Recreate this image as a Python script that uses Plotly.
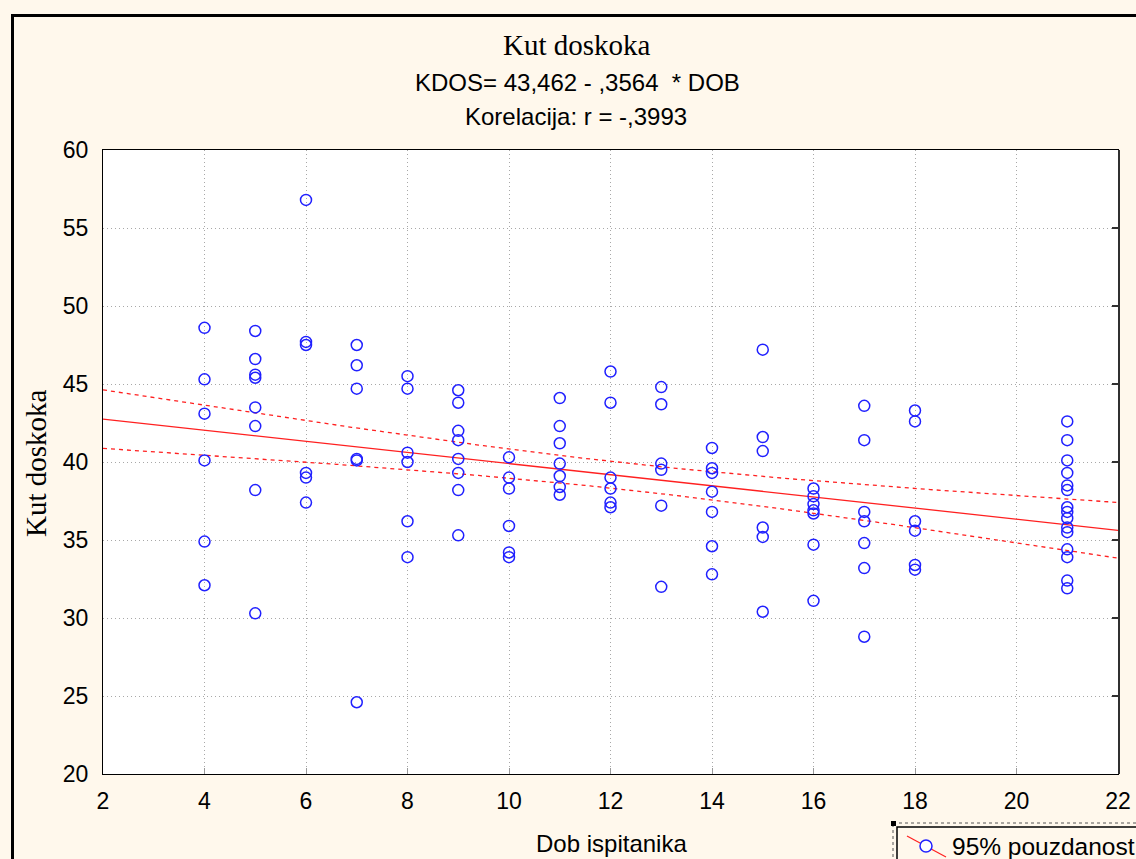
import numpy as np
import plotly.graph_objects as go

# Kut doskoka (landing angle) measured per age group (Dob ispitanika)
kut_dob4 = [48.6, 45.3, 43.1, 40.1, 34.9, 32.1]
kut_dob5 = [48.4, 46.6, 45.6, 45.4, 43.5, 42.3, 38.2, 30.3]
kut_dob6 = [56.8, 47.7, 47.5, 39.3, 39.0, 37.4]
kut_dob7 = [47.5, 46.2, 44.7, 40.2, 40.1, 24.6]
kut_dob8 = [45.5, 44.7, 40.6, 40.0, 36.2, 33.9]
kut_dob9 = [44.6, 43.8, 42.0, 41.4, 40.2, 39.3, 38.2, 35.3]
kut_dob10 = [40.3, 39.0, 38.3, 35.9, 34.2, 33.9]
kut_dob11 = [44.1, 42.3, 41.2, 39.9, 39.1, 38.4, 37.9]
kut_dob12 = [45.8, 43.8, 39.0, 38.3, 37.4, 37.1]
kut_dob13 = [44.8, 43.7, 39.9, 39.5, 37.2, 32.0]
kut_dob14 = [40.9, 39.6, 39.3, 38.1, 36.8, 34.6, 32.8]
kut_dob15 = [47.2, 41.6, 40.7, 35.8, 35.2, 30.4]
kut_dob16 = [38.3, 37.8, 37.3, 36.9, 36.7, 34.7, 31.1]
kut_dob17 = [43.6, 41.4, 36.8, 36.2, 34.8, 33.2, 28.8]
kut_dob18 = [43.3, 42.6, 36.2, 35.6, 33.4, 33.1]
kut_dob21 = [42.6, 41.4, 40.1, 39.3, 38.5, 38.2, 37.1, 36.8, 36.4,
             35.8, 35.5, 34.4, 33.9, 32.4, 31.9]

age_groups = [4, 5, 6, 7, 8, 9, 10, 11, 12, 13, 14, 15, 16, 17, 18, 21]
group_values = [kut_dob4, kut_dob5, kut_dob6, kut_dob7, kut_dob8, kut_dob9,
                kut_dob10, kut_dob11, kut_dob12, kut_dob13, kut_dob14,
                kut_dob15, kut_dob16, kut_dob17, kut_dob18, kut_dob21]

# Fitted model KDOS = 43,462 - ,3564 * DOB
intercept = 43.462
slope = -0.3564
t_95 = 1.983

x_ticks = [2, 4, 6, 8, 10, 12, 14, 16, 18, 20, 22]
y_ticks = [20, 25, 30, 35, 40, 45, 50, 55, 60]

dob = np.concatenate([[a] * len(v) for a, v in zip(age_groups, group_values)]).astype(float)
kut = np.concatenate(group_values).astype(float)

# regression line and 95% confidence band of the mean
n = len(dob)
resid = kut - (intercept + slope * dob)
s = np.sqrt(np.sum(resid ** 2) / (n - 2))
x_mean = dob.mean()
sxx = np.sum((dob - x_mean) ** 2)
xl = np.linspace(2, 22, 201)
yl = intercept + slope * xl
half = t_95 * s * np.sqrt(1.0 / n + (xl - x_mean) ** 2 / sxx)

PL, PR, PT, PB = 103, 1118, 150, 774
W, H = 1136, 859


def px(xp):
    return (xp - PL) / (PR - PL)


def py(yp):
    return (PB - yp) / (PB - PT)


fig = go.Figure()
red = "#FF2020"
blue = "#2020FF"
fig.add_trace(go.Scatter(x=xl, y=yl + half, mode="lines",
                         line=dict(color=red, width=1.3, dash="4px,4px"),
                         showlegend=False, hoverinfo="skip"))
fig.add_trace(go.Scatter(x=xl, y=yl - half, mode="lines",
                         line=dict(color=red, width=1.3, dash="4px,4px"),
                         showlegend=False, hoverinfo="skip"))
fig.add_trace(go.Scatter(x=xl, y=yl, mode="lines",
                         line=dict(color=red, width=1.3),
                         showlegend=False, hoverinfo="skip"))
fig.add_trace(go.Scatter(x=dob, y=kut, mode="markers",
                         marker=dict(symbol="circle-open", size=11,
                                     color=blue, line=dict(width=1.5, color=blue)),
                         showlegend=False))
# right-hand axis carrying the inward ticks
fig.add_trace(go.Scatter(x=[2], y=[20], yaxis="y2", mode="markers",
                         marker=dict(opacity=0), showlegend=False, hoverinfo="skip"))

sans = "Liberation Sans, Arial, sans-serif"
serif = "Liberation Serif, Times New Roman, serif"

grid = dict(showgrid=True, gridcolor="#A8A8A8", griddash="1px,3px", gridwidth=1)

fig.update_layout(
    width=W, height=H, autosize=False,
    margin=dict(l=PL, r=W - PR, t=PT, b=H - PB, autoexpand=False),
    paper_bgcolor="#FFF8EC",
    plot_bgcolor="#FFFFFF",
    showlegend=False,
    xaxis=dict(range=[2, 22], tickvals=x_ticks, ticktext=[str(v) for v in x_ticks],
               zeroline=False, showline=True, linecolor="#000000", linewidth=1,
               mirror=True, ticks="inside", ticklen=6, tickcolor="#9A9A9A",
               tickfont=dict(family=sans, size=23, color="#000000"),
               ticklabelstandoff=6, automargin=False, **grid),
    yaxis=dict(range=[20, 60], tickvals=y_ticks, ticktext=[str(v) for v in y_ticks],
               zeroline=False, showline=True, linecolor="#000000", linewidth=1,
               mirror=True, ticks="",
               tickfont=dict(family=sans, size=23, color="#000000"),
               ticklabelstandoff=9, automargin=False, **grid),
    yaxis2=dict(range=[20, 60], tickvals=y_ticks, overlaying="y", side="right",
                showgrid=False, zeroline=False, showticklabels=False,
                ticks="inside", ticklen=6, tickwidth=2, tickcolor="#303030",
                showline=True, linecolor="#303030", linewidth=2, automargin=False),
)

annotations = [
    dict(text="Kut doskoka", x=px(577), y=py(45), font=dict(family=serif, size=29)),
    dict(text="KDOS= 43,462 - ,3564  * DOB", x=px(577), y=py(83), font=dict(family=sans, size=24)),
    dict(text="Korelacija: r = -,3993", x=px(576), y=py(117), font=dict(family=sans, size=24)),
    dict(text="Dob ispitanika", x=px(611), y=py(843), font=dict(family=sans, size=24)),
    dict(text="Kut doskoka", x=px(36), y=py(463), textangle=-90, font=dict(family=serif, size=29)),
    dict(text="95% pouzdanost", x=px(950), y=py(846), xanchor="left", font=dict(family=sans, size=24.5)),
]
for a in annotations:
    a.setdefault("xanchor", "center")
    a.update(xref="paper", yref="paper", yanchor="middle", showarrow=False)
    a["font"]["color"] = "#000000"
    fig.add_annotation(**a)

shapes = [
    # outer frame of the graph window
    dict(type="rect", x0=px(12.5), y0=py(15.5), x1=px(1160), y1=py(900),
         line=dict(color="#000000", width=3)),
    # legend box
    dict(type="rect", x0=px(893), y0=py(823), x1=px(1160), y1=py(900),
         line=dict(color="#555555", width=1, dash="dot"), fillcolor="#FFF8EC"),
    dict(type="rect", x0=px(897), y0=py(827), x1=px(1160), y1=py(900),
         line=dict(color="#000000", width=1.5)),
    dict(type="rect", x0=px(891), y0=py(821), x1=px(896), y1=py(826),
         line=dict(width=0), fillcolor="#000000"),
    # legend key: band line through an open circle
    dict(type="line", x0=px(907), y0=py(836), x1=px(946), y1=py(857),
         line=dict(color=red, width=1.2)),
    dict(type="circle", x0=px(920), y0=py(840), x1=px(932), y1=py(852),
         line=dict(color=blue, width=1.5), fillcolor="#FFFFFF"),
]
for sh in shapes:
    sh.update(xref="paper", yref="paper", layer="above")
    fig.add_shape(**sh)

fig.write_html("out.html")
